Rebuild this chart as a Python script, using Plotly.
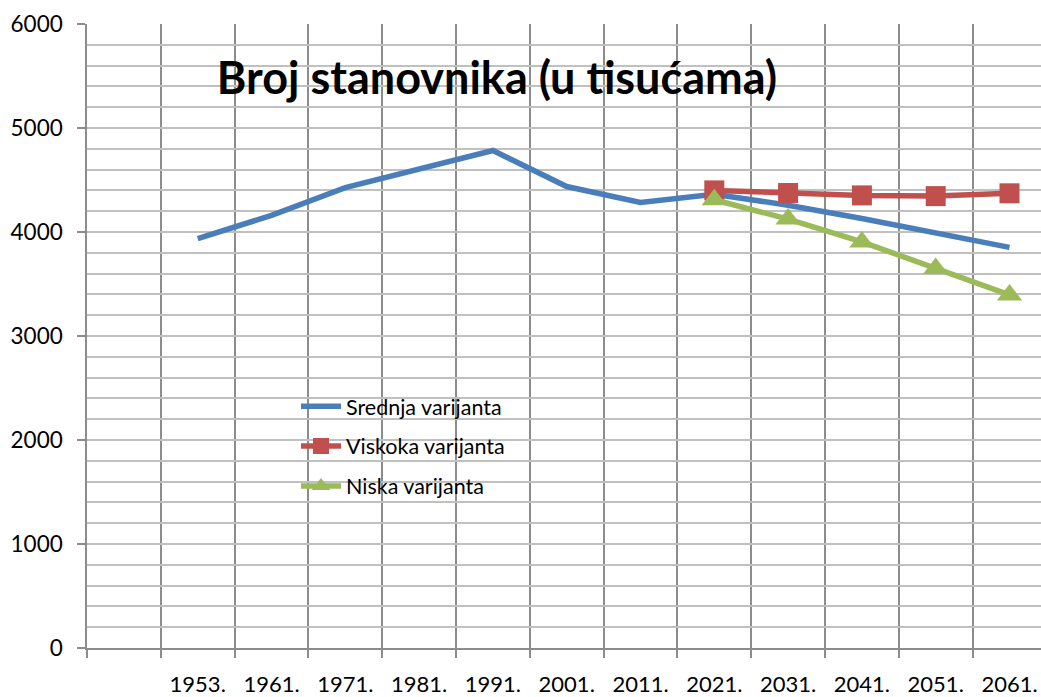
import plotly.graph_objects as go

# Census years plus projection years; slot 0 on the category axis stays empty
years = ["1953.", "1961.", "1971.", "1981.", "1991.", "2001.", "2011.",
         "2021.", "2031.", "2041.", "2051.", "2061."]

# Population in thousands
srednja = [3936, 4160, 4426, 4601, 4784, 4437, 4285, 4362, 4258, 4130, 3995, 3852]
visoka_years = ["2021.", "2031.", "2041.", "2051.", "2061."]
visoka = [4400, 4375, 4352, 4345, 4372]
niska = [4310, 4124, 3905, 3650, 3395]

series_names = ["Srednja varijanta", "Viskoka varijanta", "Niska varijanta"]
colors = ["#4A7EBB", "#C0504D", "#9BBB59"]

title_text = "Broj stanovnika (u tisućama)"

FONT = "Lato"

# category position: slot index 1..12 for the labelled years
pos = {y: i + 1 for i, y in enumerate(years)}

fig = go.Figure()
fig.add_trace(go.Scatter(
    x=[pos[y] for y in years], y=srednja, name=series_names[0],
    mode="lines", line=dict(color=colors[0], width=5.5),
    legendgroup="a",
))
fig.add_trace(go.Scatter(
    x=[pos[y] for y in visoka_years], y=visoka, name=series_names[1],
    mode="lines+markers", line=dict(color=colors[1], width=5.5),
    marker=dict(symbol="square", size=20, color=colors[1]),
    legendgroup="b",
))
fig.add_trace(go.Scatter(
    x=[pos[y] for y in visoka_years], y=niska, name=series_names[2],
    mode="lines+markers", line=dict(color=colors[2], width=5.5),
    marker=dict(symbol="triangle-up", size=22, color=colors[2]),
    legendgroup="c",
))

n_slots = len(years) + 1
slot_px = 73.8
plot_px = 1041 - 87

fig.update_layout(
    width=1041, height=697,
    margin=dict(l=87, r=0, t=24, b=45),
    paper_bgcolor="white", plot_bgcolor="white",
    font=dict(family=FONT, size=22, color="#000000"),
    title=dict(
        text=f"<b>{title_text}</b>",
        x=497 / 1041, xanchor="center", xref="container",
        y=(697 - 78) / 697, yanchor="middle", yref="container",
        font=dict(family=FONT, size=45, color="#000000"),
    ),
    showlegend=True,
    legend=dict(
        x=(296 - 87) / plot_px, y=(652 - 388) / 628,
        xanchor="left", yanchor="top",
        bgcolor="rgba(0,0,0,0)", borderwidth=0,
        font=dict(family=FONT, size=21.5, color="#000000"),
        traceorder="grouped", tracegroupgap=9,
        itemwidth=40,
    ),
    xaxis=dict(
        range=[-0.5, -0.5 + plot_px / slot_px],
        tickmode="array",
        tickvals=[pos[y] for y in years],
        ticktext=years,
        ticks="",
        showgrid=False,
        zeroline=False,
        showline=True, linecolor="#8C8C8C", linewidth=1.5,
        ticklabelstandoff=16,
        tickfont=dict(family=FONT, size=22, color="#000000"),
        minor=dict(
            tickmode="array",
            tickvals=[k - 0.5 for k in range(n_slots + 1)],
            ticks="outside", ticklen=8, tickcolor="#8C8C8C", tickwidth=1.5,
            showgrid=True, gridcolor="#8C8C8C", gridwidth=1.5,
        ),
        fixedrange=True,
    ),
    yaxis=dict(
        range=[0, 6000],
        tickmode="linear", tick0=0, dtick=1000,
        ticks="outside", ticklen=8, tickcolor="#8C8C8C", tickwidth=1.5,
        showgrid=True, gridcolor="#C0C0C0", gridwidth=1.5,
        zeroline=False,
        showline=True, linecolor="#8C8C8C", linewidth=1.5,
        ticklabelstandoff=10,
        tickfont=dict(family=FONT, size=22.5, color="#000000"),
        minor=dict(
            tickmode="linear", tick0=0, dtick=200,
            ticks="", showgrid=True, gridcolor="#C0C0C0", gridwidth=1.5,
        ),
        fixedrange=True,
    ),
)

fig.write_html("out.html", config={"displayModeBar": False})
